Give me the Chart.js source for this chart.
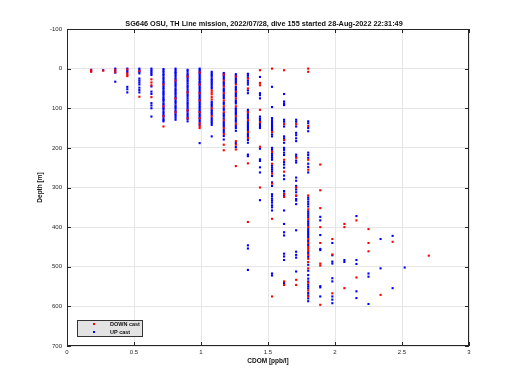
<!DOCTYPE html>
<html>
<head>
<meta charset="utf-8">
<script src="https://cdn.jsdelivr.net/npm/chart.js@4/dist/chart.umd.min.js"></script>
<style>
  body { margin: 0; background: #fff; }
  canvas { display: block; }
</style>
</head>
<body>
<canvas id="chart" width="520" height="390"></canvas>
<script>
// CDOM bins (ppb/l) - the sensor reads in steps, so points sit in columns
const cdomBins = [0, 0.18, 0.27, 0.36, 0.45, 0.54, 0.63, 0.72, 0.81, 0.90, 0.99, 1.08, 1.17, 1.26, 1.35,
  1.44, 1.53, 1.62, 1.71, 1.80, 1.89, 1.98, 2.07, 2.16, 2.25, 2.34, 2.43, 2.52, 2.70];

// depths (m) for each bin, down cast
const downDepths = [
  [2], [4, 8], [5], [3, 9], [2, 12, 16, 19], [6, 71], [27, 35, 42, 72],
  [40, 95, 120, 146], [30, 75, 110], [20, 60, 105, 125],
  [10, 40, 62, 80, 110, 125, 138, 145, 150],
  [55, 60, 65, 72, 78, 100, 120],
  [15, 30, 45, 62, 80, 95, 110, 130, 150, 165, 192, 206],
  [20, 40, 58, 75, 95, 120, 140, 183, 192, 204, 246],
  [25, 50, 110, 130, 160, 175, 239, 387],
  [4, 36, 42, 104, 135, 197, 300],
  [0, 160, 210, 240, 265, 290, 379, 575],
  [4, 140, 180, 230, 260, 317, 324, 537, 546],
  [140, 225, 300, 320, 533, 546],
  [0, 8, 145, 230, 255, 320, 355, 380, 400, 430, 440, 450, 455, 460, 470, 480, 488, 504, 540, 560, 575],
  [242, 307, 352, 400, 440, 492, 497, 596],
  [430, 469, 567],
  [392, 400, 554],
  [383, 527],
  [405, 440, 461],
  [571],
  [437],
  [],
  [472]
];

// depths (m) for each bin, up cast
const upDepths = [
  [], [3, 6], [4], [0, 5, 10, 33], [0, 5, 9, 46, 52, 60],
  [0, 4, 8, 12, 25, 30, 35, 40, 48, 54, 60],
  [0, 4, 8, 12, 16, 45, 58, 64, 87, 93, 100, 121],
  [1, 5, 9, 14, 17, 22, 26, 31, 35, 38, 44, 48, 51, 56, 60, 63, 67, 72, 76, 79, 83, 88, 91, 96, 100, 103, 108, 112, 117, 121, 126, 130, 133],
  [0, 4, 8, 11, 15, 19, 24, 28, 33, 37, 41, 45, 50, 54, 58, 62, 66, 71, 75, 80, 84, 88, 93, 97, 101, 106, 110, 115, 119, 124, 129],
  [3, 7, 12, 16, 20, 24, 29, 33, 38, 43, 47, 52, 57, 61, 66, 70, 75, 80, 85, 89, 94, 99, 104, 108, 113, 117, 122, 127, 133],
  [0, 3, 7, 10, 14, 18, 22, 26, 30, 34, 37, 41, 45, 49, 53, 57, 61, 65, 69, 73, 77, 81, 85, 89, 93, 97, 101, 105, 109, 113, 117, 121, 125, 130, 134, 141, 188],
  [8, 12, 16, 20, 25, 29, 33, 37, 41, 46, 50, 84, 88, 92, 96, 104, 108, 112, 116, 125, 129, 133, 137, 142, 171],
  [11, 14, 18, 22, 26, 34, 38, 42, 50, 54, 58, 66, 70, 74, 85, 89, 100, 104, 113, 117, 121, 126, 134, 138, 142, 146, 155, 160, 170, 179],
  [14, 18, 24, 28, 32, 36, 46, 50, 54, 62, 66, 70, 80, 84, 88, 100, 104, 108, 112, 116, 125, 130, 134, 145, 150, 157, 188, 198],
  [13, 17, 22, 30, 35, 40, 55, 62, 104, 108, 115, 120, 125, 135, 140, 145, 150, 155, 165, 170, 180, 187, 217, 221, 446, 454, 508],
  [21, 62, 67, 75, 121, 126, 130, 140, 145, 150, 202, 229, 233, 249, 262, 332],
  [46, 97, 125, 130, 135, 140, 145, 150, 155, 166, 171, 200, 205, 215, 220, 225, 230, 245, 250, 255, 260, 271, 287, 296, 317, 322, 328, 333, 338, 345, 350, 358, 517, 522],
  [64, 83, 88, 92, 129, 134, 146, 171, 176, 187, 200, 205, 212, 218, 236, 242, 250, 270, 279, 309, 315, 321, 358, 392, 413, 421, 467, 474, 483, 541],
  [129, 134, 146, 162, 168, 176, 183, 217, 222, 232, 237, 275, 283, 296, 305, 312, 321, 329, 333, 342, 408, 462, 470, 477, 512],
  [133, 138, 150, 158, 212, 218, 225, 240, 248, 262, 325, 330, 336, 342, 348, 360, 365, 370, 375, 385, 390, 395, 405, 410, 415, 420, 425, 435, 445, 465, 475, 495, 510, 521, 530, 537, 545, 550, 555, 566, 572, 580, 587],
  [374, 383, 420, 455, 458, 549, 552, 575],
  [440, 471, 487, 492, 529, 537, 575, 583, 592],
  [483, 488],
  [372, 483, 493, 562, 579],
  [517, 525, 594],
  [430, 504],
  [422, 554],
  [502],
  []
];

const xTicks = [0, 0.5, 1, 1.5, 2, 2.5, 3];
const yTicks = [-100, 0, 100, 200, 300, 400, 500, 600, 700];

const titleText = "SG646 OSU, TH Line mission, 2022/07/28, dive 155 started 28-Aug-2022 22:31:49";
const FONT = "'Liberation Sans', Arial, sans-serif";

// turn the bins + depth lists into {x, y} points
function toPoints(depthLists) {
  const pts = [];
  depthLists.forEach((list, i) => {
    list.forEach(d => pts.push({ x: cdomBins[i], y: d }));
  });
  return pts;
}

// frame, inward ticks, title and legend box, drawn like the matlab figure
const figurePlugin = {
  id: "figure",
  afterDatasetsDraw(chart) {
    const { ctx, chartArea: a, scales } = chart;
    ctx.save();
    ctx.strokeStyle = "#262626";
    ctx.lineWidth = 1;
    ctx.strokeRect(a.left + 0.5, a.top + 0.5, a.right - a.left - 1, a.bottom - a.top - 1);
    ctx.beginPath();
    xTicks.forEach(t => {
      const px = Math.round(scales.x.getPixelForValue(t)) + 0.5;
      ctx.moveTo(px, a.bottom); ctx.lineTo(px, a.bottom - 4);
      ctx.moveTo(px, a.top); ctx.lineTo(px, a.top + 4);
    });
    yTicks.forEach(t => {
      const py = Math.round(scales.y.getPixelForValue(t)) + 0.5;
      ctx.moveTo(a.left, py); ctx.lineTo(a.left + 4, py);
      ctx.moveTo(a.right, py); ctx.lineTo(a.right - 4, py);
    });
    ctx.stroke();

    // title
    ctx.fillStyle = "#111";
    ctx.font = "bold 7.3px " + FONT;
    ctx.textAlign = "center";
    ctx.textBaseline = "middle";
    ctx.fillText(titleText, 264, 24);

    // legend
    ctx.fillStyle = "#e3e3e3";
    ctx.fillRect(77, 320, 66, 17);
    ctx.strokeStyle = "#333";
    ctx.strokeRect(77.5, 320.5, 65, 16);
    ctx.fillStyle = "rgb(255,0,0)";
    ctx.fillRect(93, 323, 2, 2);
    ctx.fillStyle = "rgb(0,0,255)";
    ctx.fillRect(93, 331, 2, 2);
    ctx.fillStyle = "#111";
    ctx.font = "bold 5.5px " + FONT;
    ctx.textAlign = "left";
    ctx.fillText("DOWN cast", 110, 324.5);
    ctx.fillText("UP cast", 110, 332);
    ctx.restore();
  }
};

new Chart(document.getElementById("chart"), {
  type: "scatter",
  data: {
    datasets: [
      {
        label: "DOWN cast",
        data: toPoints(downDepths),
        backgroundColor: "rgb(255,0,0)",
        pointStyle: "rect",
        pointRadius: 1.5,
        borderWidth: 0,
      },
      {
        label: "UP cast",
        data: toPoints(upDepths),
        backgroundColor: "rgb(0,0,255)",
        pointStyle: "rect",
        pointRadius: 1.5,
        borderWidth: 0,
      },
    ],
  },
  options: {
    responsive: false,
    animation: false,
    devicePixelRatio: 1,
    layout: { padding: { top: 29, right: 51, left: 0, bottom: 0 } },
    plugins: {
      legend: { display: false },
      tooltip: { enabled: false },
    },
    scales: {
      x: {
        type: "linear",
        min: 0,
        max: 3,
        afterFit: s => { s.height = 44; },
        afterBuildTicks: s => { s.ticks = xTicks.map(v => ({ value: v })); },
        ticks: { color: "#262626", font: { family: FONT, size: 6 }, padding: 3, maxRotation: 0,
          callback: v => String(v) },
        grid: { color: "#e6e6e6", drawTicks: false },
        border: { display: false },
        title: { display: true, text: "CDOM [ppb/l]", color: "#111",
          font: { family: FONT, size: 6.5, weight: "bold" }, padding: { top: 0, bottom: 25 } },
      },
      y: {
        type: "linear",
        reverse: true,
        min: -100,
        max: 700,
        afterFit: s => { s.width = 67; },
        afterBuildTicks: s => { s.ticks = yTicks.map(v => ({ value: v })); },
        ticks: { color: "#262626", font: { family: FONT, size: 6 }, padding: 5,
          callback: v => String(v) },
        grid: { color: "#e6e6e6", drawTicks: false },
        border: { display: false },
        title: { display: true, text: "Depth [m]", color: "#111",
          font: { family: FONT, size: 6.5, weight: "bold" }, padding: { top: 36, bottom: 0 } },
      },
    },
  },
  plugins: [figurePlugin],
});
</script>
</body>
</html>
